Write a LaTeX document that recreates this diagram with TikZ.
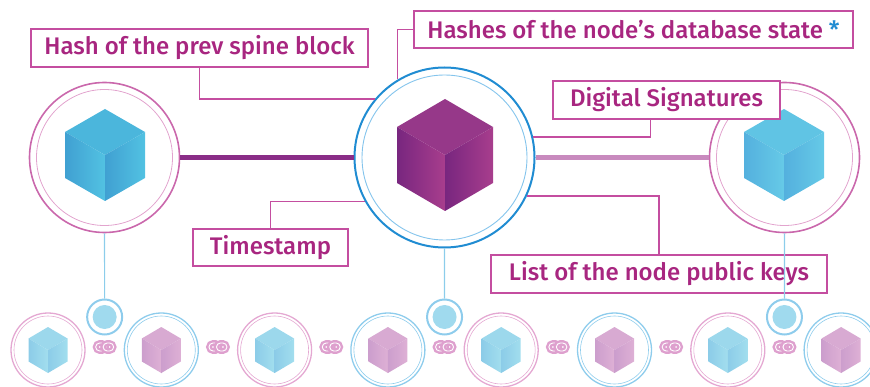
\documentclass[tikz,border=0pt]{standalone}
\usepackage{fontspec}
\setmainfont{Fira Sans}
\newfontfamily\labelfont{Fira Sans Medium}

\definecolor{labelpink}{RGB}{196,78,160}
\definecolor{labeltext}{RGB}{168,38,128}
\definecolor{ringpink}{RGB}{202,104,172}
\definecolor{ringpinklight}{RGB}{226,164,206}
\definecolor{ringblue}{RGB}{32,140,210}
\definecolor{ringbluelight}{RGB}{132,196,236}
\definecolor{softpinkring}{RGB}{228,168,210}
\definecolor{softbluering}{RGB}{142,204,236}
\definecolor{starblue}{RGB}{32,140,210}
\definecolor{linkdark}{RGB}{138,45,135}
\definecolor{linklight}{RGB}{200,138,190}
\definecolor{stemblue}{RGB}{140,205,235}
\definecolor{dotfill}{RGB}{160,218,238}
\definecolor{chainpink}{RGB}{222,160,206}
% cube palettes: top face, dark edge, light edge
\definecolor{bluetop}{RGB}{75,182,220}
\definecolor{bluedark}{RGB}{64,160,210}
\definecolor{bluelight}{RGB}{82,194,226}
\definecolor{purpletop}{RGB}{150,56,137}
\definecolor{purpledark}{RGB}{120,38,127}
\definecolor{purplelight}{RGB}{168,62,141}
\definecolor{skytop}{RGB}{96,196,228}
\definecolor{skydark}{RGB}{84,176,222}
\definecolor{skylight}{RGB}{102,202,231}
\definecolor{softbluetop}{RGB}{156,216,236}
\definecolor{softbluedark}{RGB}{140,204,232}
\definecolor{softbluelight}{RGB}{162,222,238}
\definecolor{softpinktop}{RGB}{216,170,210}
\definecolor{softpinkdark}{RGB}{204,158,205}
\definecolor{softpinklight}{RGB}{222,176,213}

% isometric cube: x, y, half width, half height, palette
\newcommand{\cubeicon}[5]{%
  \fill[#5top] (#1,#2-#4) -- (#1+#3,#2-#4/2) -- (#1,#2) -- (#1-#3,#2-#4/2) -- cycle;
  \shade[left color=#5dark, right color=#5light] (#1-#3,#2-#4/2) -- (#1,#2) -- (#1,#2+#4) -- (#1-#3,#2+#4/2) -- cycle;
  \shade[left color=#5dark, right color=#5light] (#1,#2) -- (#1+#3,#2-#4/2) -- (#1+#3,#2+#4/2) -- (#1,#2+#4) -- cycle;
}

\begin{document}
\begin{tikzpicture}[
    x=1pt, y=-1pt,
    labelbox/.style={
        rectangle,
        draw=labelpink,
        fill=white,
        line width=1.2pt,
        text=labeltext,
        minimum height=38pt,
        inner sep=0pt,
        font=\labelfont\fontsize{24}{28}\selectfont
    },
    labelline/.style={
        draw=labelpink,
        line width=1.3pt
    },
    sideblock/.style={
        circle,
        draw=ringpink,
        line width=1.6pt,
        minimum size=150pt,
        inner sep=0pt
    },
    spineblock/.style={
        circle,
        draw=ringblue,
        line width=2pt,
        minimum size=180pt,
        inner sep=0pt
    },
    shardpink/.style={
        circle,
        draw=softpinkring,
        line width=1.3pt,
        minimum size=74pt,
        inner sep=0pt
    },
    shardblue/.style={
        shardpink,
        draw=softbluering
    },
    anchordot/.style={
        circle,
        draw=softbluering,
        line width=2pt,
        minimum size=35pt,
        inner sep=0pt
    },
    stem/.style={
        draw=stemblue,
        line width=1.2pt
    },
    chainlink/.style={
        draw=chainpink,
        line width=2.4pt,
        double=white,
        double distance=0.9pt,
        rounded corners=4pt
    }
]
    \useasboundingbox (0,0) rectangle (870,387);
    \clip (0,0) rectangle (870,387);

    % --- TOP CHAIN: PREV, SPINE, NEXT ---
    \node[sideblock] (prevblock) at (104.5,157.5) {};
    \node[spineblock] (spine) at (444.5,157.5) {};
    \node[sideblock] (nextblock) at (784.5,157.5) {};

    \draw[ringpinklight, line width=0.8pt] (prevblock) circle (68pt);
    \draw[ringbluelight, line width=0.9pt] (spine) circle (82.5pt);
    \draw[ringpinklight, line width=0.8pt] (nextblock) circle (68pt);

    \cubeicon{105}{155}{40}{46}{blue}
    \cubeicon{445}{155}{48}{56}{purple}
    \cubeicon{784}{155}{40}{46}{sky}

    \draw[linkdark, line width=5pt] (prevblock) -- (spine);
    \draw[linklight, line width=5pt] (spine) -- (nextblock);

    % --- LABELS AROUND THE SPINE BLOCK ---
    \node[labelbox, minimum width=337pt] (prevhash) at (199.5,48) {Hash of the prev spine block};
    \node[labelbox, minimum width=439pt, minimum height=37pt] (dbhash) at (633.5,29.5) {Hashes of the node’s database state \textcolor{starblue}{*}};
    \node[labelbox, minimum width=227pt] (signatures) at (666.5,100) {Digital Signatures};
    \node[labelbox, minimum width=155pt, minimum height=37pt] (timestamp) at (270.5,247.5) {Timestamp};
    \node[labelbox, minimum width=336pt] (pubkeys) at (659,274) {List of the node public keys};

    \draw[labelline] (prevhash.south) |- (spine.140);
    \draw[labelline] (dbhash.west) -| (spine.121);
    \draw[labelline] ([xshift=-16pt]signatures.south) |- (spine.13);
    \draw[labelline] (timestamp.north) |- (spine.209);
    \draw[labelline] (pubkeys.north) |- (spine.335);

    % --- ANCHORS DOWN TO THE SHARD ROW ---
    \node[anchordot] (dot1) at (104.65,317) {};
    \node[anchordot] (dot2) at (444.55,317) {};
    \node[anchordot] (dot3) at (784.45,317) {};
    \foreach \d in {dot1,dot2,dot3}
        \fill[dotfill] (\d) circle (12pt);

    \draw[stem] (prevblock) -- (dot1);
    \draw[stem] (spine) -- (dot2);
    \draw[stem] (nextblock) -- (dot3);

    % --- SHARD ROW ---
    \foreach \i in {0,2,4,6} {
        \pgfmathsetmacro{\bx}{48+113.3*\i}
        \node[shardpink] (shard\i) at (\bx,350) {};
        \draw[softpinkring, line width=0.6pt] (shard\i) circle (34pt);
        \cubeicon{\bx}{350}{19.5}{23}{softblue}
    }
    \foreach \i in {1,3,5,7} {
        \pgfmathsetmacro{\bx}{48+113.3*\i}
        \node[shardblue] (shard\i) at (\bx,350) {};
        \draw[softbluering, line width=0.6pt] (shard\i) circle (34pt);
        \cubeicon{\bx}{350}{19.5}{23}{softpink}
    }

    % chain links between shards
    \foreach \i in {0,...,6} {
        \pgfmathsetmacro{\lx}{104.65+113.3*\i}
        \draw[chainlink] (\lx-9,343) rectangle (\lx+1.5,351);
        \draw[chainlink] (\lx-1.5,343) rectangle (\lx+9,351);
    }

\end{tikzpicture}
\end{document}
